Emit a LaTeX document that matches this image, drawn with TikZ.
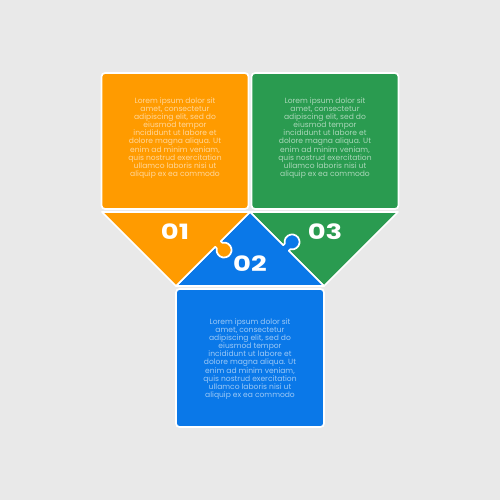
\documentclass[tikz,border=0pt]{standalone}
\usepackage{fontspec}
\setmainfont{Poppins}
\usetikzlibrary{positioning,calc}
\definecolor{backG}{RGB}{233,233,233}
\definecolor{orangeP}{RGB}{255,155,0}
\definecolor{greenP}{RGB}{42,155,80}
\definecolor{blueP}{RGB}{10,120,232}

\newcommand{\loremtext}{Lorem ipsum dolor sit\\amet, consectetur\\adipiscing elit, sed do\\eiusmod tempor\\incididunt ut labore et\\dolore magna aliqua. Ut\\enim ad minim veniam,\\quis nostrud exercitation\\ullamco laboris nisi ut\\aliquip ex ea commodo}
\newcommand{\puzzletab}[1]{-- ++({#1+90}:2.2) arc[start angle={#1+237.8}, end angle={#1-57.8}, radius=7.5] -- ++({#1-90}:2.2)}

\begin{document}
\begin{tikzpicture}[
	x=0.02cm, y=0.02cm,
	piece/.style={
		draw=white,
		line width=0.035cm,
		line join=round
	},
	box/.style={
		piece,
		rounded corners=0.07cm,
		minimum width=2.94cm,
		minimum height=2.72cm,
		inner sep=0pt
	},
	lorem/.style={
		text=white,
		text opacity=0.6,
		align=center,
		font=\fontsize{4.3}{4.6}\selectfont
	},
	num/.style={
		text=white,
		font=\fontsize{12}{14}\selectfont\bfseries,
		xscale=1.3
	}
	]
	\fill[backG] (0,0) rectangle (500,500);

	\node[box, fill=orangeP] (box1) at (175,359) {};
	\node[box, fill=greenP] (box3) at (325,359) {};
	\node[box, fill=blueP, minimum width=2.96cm, minimum height=2.76cm] (box2) at (250,142) {};

	% puzzle pieces
	\draw[piece, fill=greenP] (250,288) -- (398,288) -- (324,214) -- cycle;
	\draw[piece, fill=blueP] (176,214) -- (250,288) -- ($(286,252)+(135:4)$) \puzzletab{-45} -- (324,214) -- cycle;
	\draw[piece, fill=orangeP] (102,288) -- (250,288) -- ($(218,256)+(45:4)$) \puzzletab{-135} -- (176,214) -- cycle;

	\node[lorem] (t1) at (175,362) {\loremtext};
	\node[lorem] (t3) at (325,362) {\loremtext};
	\node[lorem] (t2) at (250,141) {\loremtext};

	\node[num] (n1) at (175,268) {01};
	\node[num] (n3) at (325,268) {03};
	\node[num] (n2) at (250,236) {02};
\end{tikzpicture}
\end{document}
